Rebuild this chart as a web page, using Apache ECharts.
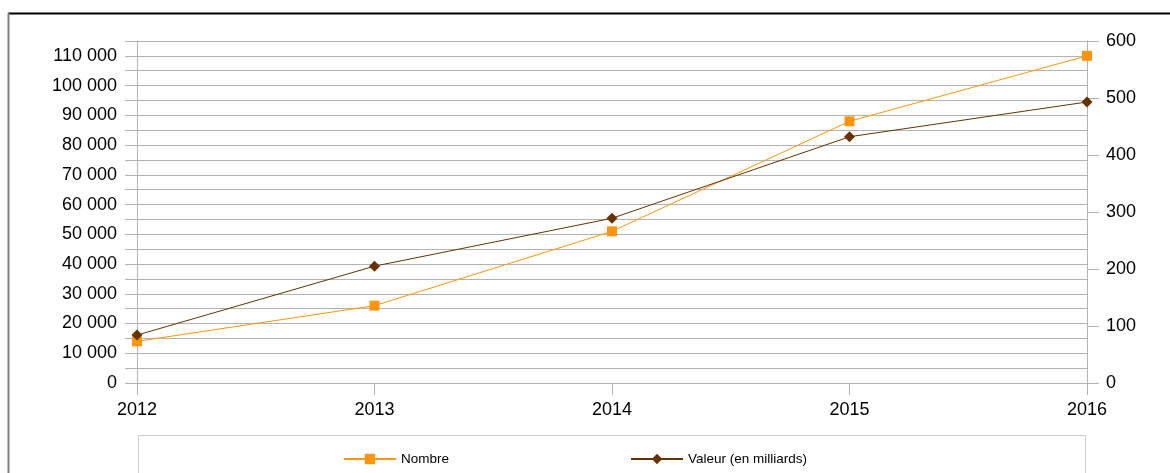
<!DOCTYPE html>
<html>
<head>
<meta charset="utf-8">
<script src="https://cdn.jsdelivr.net/npm/echarts@6/dist/echarts.min.js"></script>
<style>
  html, body { margin: 0; padding: 0; background: #fff; }
  #chart { width: 1170px; height: 473px; }
</style>
</head>
<body>
<div id="chart"></div>
<script>
// données
var years = ['2012', '2013', '2014', '2015', '2016'];
var nombre = [14000, 26000, 51000, 88000, 110000];
var valeur = [84, 205, 289, 432, 493];
var seriesNames = ['Nombre', 'Valeur (en milliards)'];

var gridColor = '#b3b3b3';
var font = '"Liberation Sans", Arial, sans-serif';

var chartView = echarts.init(document.getElementById('chart'), null, { renderer: 'canvas' });

function fmtThousands(v) {
    return String(v).replace(/\B(?=(\d{3})+(?!\d))/g, ' ');
}

chartView.setOption({
    backgroundColor: '#fff',
    animation: false,
    // cadre extérieur + boîte de légende
    graphic: [
        { type: 'line', shape: { x1: 8, y1: 13.5, x2: 1170, y2: 13.5 }, style: { stroke: '#000', lineWidth: 2 } },
        { type: 'line', shape: { x1: 8.5, y1: 13, x2: 8.5, y2: 473 }, style: { stroke: '#808080', lineWidth: 2 } },
        { type: 'rect', shape: { x: 138.5, y: 435.5, width: 947, height: 60 }, style: { fill: 'none', stroke: '#cccccc', lineWidth: 1 } }
    ],
    legend: {
        data: seriesNames,
        left: 338,
        top: 447,
        itemWidth: 52,
        itemHeight: 13,
        itemGap: 181,
        textStyle: { fontFamily: font, fontSize: 13.5, color: '#000' }
    },
    grid: {
        left: 137,
        right: 83,
        top: 41,
        bottom: 90,
        containLabel: false
    },
    xAxis: {
        type: 'category',
        boundaryGap: false,
        data: years,
        axisLine: { lineStyle: { color: gridColor, width: 1 } },
        axisTick: { show: true, length: 12, lineStyle: { color: gridColor } },
        axisLabel: { margin: 18, fontFamily: font, fontSize: 18, color: '#000' },
        splitLine: { show: false }
    },
    yAxis: [
        {
            type: 'value',
            min: 0,
            max: 115000,
            interval: 5000,
            axisLine: { show: true, lineStyle: { color: gridColor } },
            axisTick: { show: true, length: 12, lineStyle: { color: gridColor } },
            axisLabel: {
                margin: 20,
                fontFamily: font,
                fontSize: 18,
                color: '#000',
                formatter: function (v) {
                    return v % 10000 === 0 ? fmtThousands(v) : '';
                }
            },
            splitLine: { show: true, lineStyle: { color: gridColor, width: 1 } }
        },
        {
            type: 'value',
            min: 0,
            max: 600,
            interval: 100,
            position: 'right',
            axisLine: { show: true, lineStyle: { color: gridColor } },
            axisTick: { show: true, length: 12, lineStyle: { color: gridColor } },
            axisLabel: { margin: 19, fontFamily: font, fontSize: 18, color: '#000' },
            splitLine: { show: false }
        }
    ],
    series: [
        {
            name: seriesNames[0],
            type: 'line',
            yAxisIndex: 0,
            data: nombre,
            symbol: 'rect',
            symbolSize: 10,
            lineStyle: { color: '#ff950e', width: 1 },
            itemStyle: { color: '#ff950e' }
        },
        {
            name: seriesNames[1],
            type: 'line',
            yAxisIndex: 1,
            data: valeur,
            symbol: 'diamond',
            symbolSize: 11,
            lineStyle: { color: '#663300', width: 1 },
            itemStyle: { color: '#663300' }
        }
    ]
});
window.addEventListener('resize', function () {
    chartView.resize();
});
</script>
</body>
</html>
